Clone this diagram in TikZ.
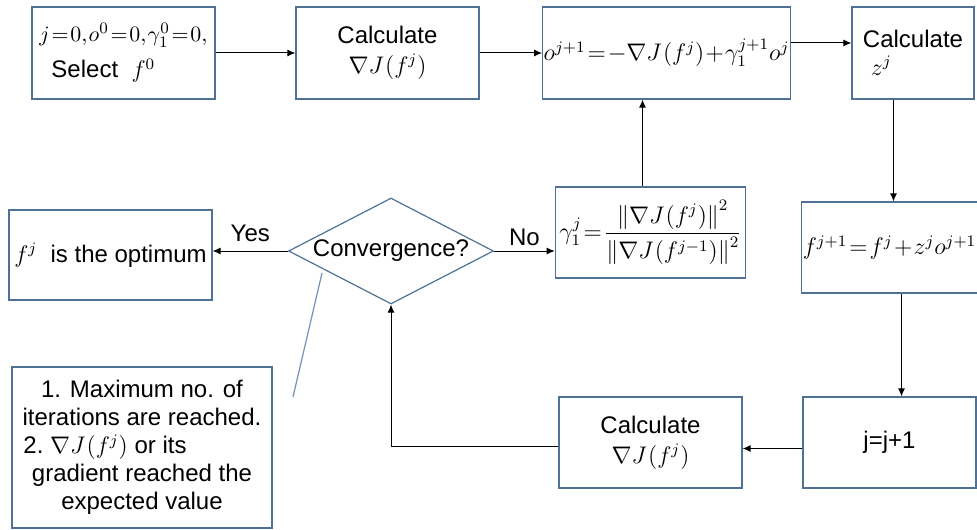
\documentclass[tikz,border=0pt]{standalone}
\usepackage{amsmath}
\usepackage{fontspec}
\setmainfont{Liberation Sans}
\usetikzlibrary{arrows.meta,shapes.geometric}
\definecolor{CgBlue}{RGB}{79,113,150}
\definecolor{CgLine}{RGB}{110,145,190}
\newcommand\cgtightmath{\thinmuskip=1mu\relax\medmuskip=1mu\relax\thickmuskip=1.5mu\relax}
\tikzset{
  cg/box/.style={
    draw=CgBlue,
    line width=0.6pt,
    fill=white,
    align=center,
    inner sep=2pt,
    font=\fontsize{12}{14}\selectfont
  },
  cg/mathbox/.style={
    cg/box,
    font=\fontsize{12}{14}\selectfont\cgtightmath
  },
  cg/decision/.style={
    diamond,
    aspect=2,
    draw=CgBlue,
    line width=0.6pt,
    fill=white,
    inner sep=0pt,
    minimum width=102.5pt,
    minimum height=53pt,
    font=\fontsize{12}{14}\selectfont
  },
  cg/arrow/.style={-{Latex[length=4pt,width=3.5pt]}, line width=0.5pt, draw=black},
  cg/pointer/.style={line width=0.6pt, draw=CgLine},
  cg/label/.style={font=\fontsize{12}{14}\selectfont, text=black}
}

\begin{document}
\begin{tikzpicture}[x=0.5pt,y=-0.5pt]
  \useasboundingbox (0,0) rectangle (977,529);
  % top row
  \node[cg/mathbox,align=left,minimum width=91.5pt,minimum height=46pt] (init) at (123.5,53)
    {{\fontsize{11}{13}\selectfont$j=0,o^{0}=0,\gamma_1^{0}=0,$}\\[4pt]\hspace*{6pt}Select\ \ $f^{0}$};
  \node[cg/mathbox,minimum width=91.5pt,minimum height=46pt] (calcgrad) at (387.5,53)
    {Calculate\\[1pt]$\nabla J\left(f^{j}\right)$};
  \node[cg/mathbox,inner xsep=0.5pt,minimum width=123.5pt,minimum height=46pt] (direction) at (666.5,53)
    {$o^{j+1}=-\nabla J\left(f^{j}\right)+\gamma_1^{j+1}o^{j}$};
  \node[cg/mathbox,align=left,minimum width=61pt,minimum height=46pt] (calcstep) at (913,53)
    {Calculate\\\hspace*{4pt}$z^{j}$};
  % middle row
  \node[cg/box,minimum width=101.5pt,minimum height=45pt] (optimum) at (110.5,255)
    {$f^{j}$\ \ is the optimum};
  \node[cg/decision] (conv) at (391,251) {Convergence?};
  \node[cg/mathbox,minimum width=91.5pt,minimum height=45.5pt] (gamma) at (650.5,232.5)
    {$\gamma_1^{j}=\dfrac{\left\|\nabla J\left(f^{j}\right)\right\|^{2}}{\left\|\nabla J\left(f^{j-1}\right)\right\|^{2}}$};
  \node[cg/mathbox,inner xsep=0.5pt,minimum width=86.5pt,minimum height=45.5pt] (update) at (889.5,247.5)
    {$f^{j+1}=f^{j}+z^{j}o^{j+1}$};
  % bottom row
  \node[cg/mathbox,minimum width=130pt,minimum height=80.5pt] (note) at (142,447.5)
    {1. Maximum no. of\\iterations are reached.\\2.\ $\nabla J\left(f^{j}\right)$\ or its\hspace{37pt}\mbox{}\\gradient reached the\\expected value};
  \node[cg/mathbox,minimum width=91.5pt,minimum height=45.5pt] (calcgrad2) at (650.5,442.5)
    {Calculate\\[1pt]$\nabla J\left(f^{j}\right)$};
  \node[cg/box,minimum width=86.5pt,minimum height=45.5pt] (increment) at (889.5,442.5)
    {j=j+1};
  % connectors
  \draw[cg/arrow] (init) -- (calcgrad);
  \draw[cg/arrow] (calcgrad) -- (direction);
  \draw[cg/arrow] ([yshift=5pt]direction.east) -- ([yshift=5pt]calcstep.west);
  \draw[cg/arrow] ([xshift=2pt]update.north |- calcstep.south) -- ([xshift=2pt]update.north);
  \draw[cg/arrow] ([xshift=6pt]update.south) -- ([xshift=6pt]increment.north);
  \draw[cg/arrow] ([yshift=-3pt]increment.west) -- ([yshift=-3pt]calcgrad2.east);
  \draw[cg/arrow] ([yshift=-2pt]calcgrad2.west) -| (conv.south);
  \draw[cg/arrow] (conv.west) -- (optimum.east |- conv.west)
    node[cg/label,midway,above=1pt] (yes) {Yes};
  \draw[cg/arrow] (conv.east) -- (gamma.west |- conv.east)
    node[cg/label,midway,above=-1pt] (no) {No};
  \draw[cg/arrow] ([xshift=-4pt]gamma.north) -- ([xshift=-4pt]gamma.north |- direction.south);
  % pointer from the note to the test
  \coordinate (pointerfoot) at (293,397);
  \coordinate (pointertip) at (322,273);
  \draw[cg/pointer] (pointerfoot) -- (pointertip);
\end{tikzpicture}
\end{document}
